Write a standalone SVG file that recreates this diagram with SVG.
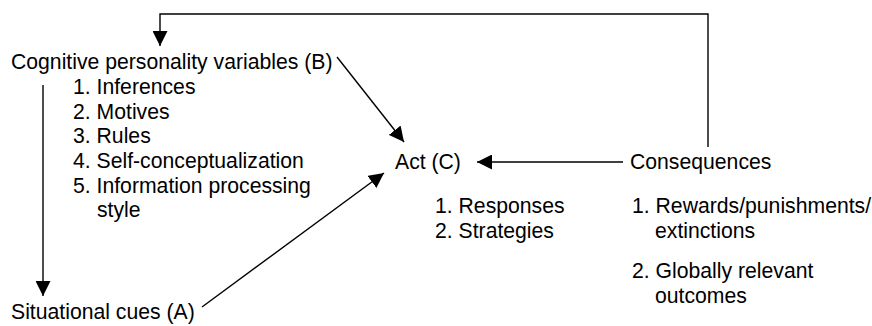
<svg xmlns="http://www.w3.org/2000/svg" width="872" height="326" viewBox="0 0 872 326">
<style>
text{font-family:"Liberation Sans",Arial,sans-serif;font-size:21.2px;fill:#000}
.c{stroke:#000;stroke-width:1.4;fill:none}
</style>
<defs>
<marker id="ah" viewBox="0 0 10 10" refX="10" refY="5" markerWidth="15" markerHeight="15" markerUnits="userSpaceOnUse" orient="auto">
<path d="M0,0 L10,5 L0,10 z" fill="#000"/>
</marker>
</defs>
<rect width="872" height="326" fill="#fff"/>
<g id="connectors">
<path class="c" d="M708,147 V14 H160 V46" marker-end="url(#ah)"/>
<path class="c" d="M43,85 V296" marker-end="url(#ah)"/>
<path class="c" d="M337,57 L404,142" marker-end="url(#ah)"/>
<path class="c" d="M202,307 L384,173" marker-end="url(#ah)"/>
<path class="c" d="M623,162 H477" marker-end="url(#ah)"/>
</g>
<g id="nodeB">
<text x="11" y="69">Cognitive personality variables (B)</text>
<text x="73" y="94">1. Inferences</text>
<text x="73" y="118.7">2. Motives</text>
<text x="73" y="143.3">3. Rules</text>
<text x="73" y="168">4. Self-conceptualization</text>
<text x="73" y="192.7">5. Information processing</text>
<text x="97" y="217.3">style</text>
</g>
<g id="nodeA">
<text x="11" y="319">Situational cues (A)</text>
</g>
<g id="nodeC">
<text x="395" y="169">Act (C)</text>
<text x="435" y="213">1. Responses</text>
<text x="435" y="237.7">2. Strategies</text>
</g>
<g id="nodeConsequences">
<text x="630" y="169">Consequences</text>
<text x="632" y="213">1. Rewards/punishments/</text>
<text x="655" y="237.7">extinctions</text>
<text x="632" y="278">2. Globally relevant</text>
<text x="655" y="302.7">outcomes</text>
</g>
</svg>
